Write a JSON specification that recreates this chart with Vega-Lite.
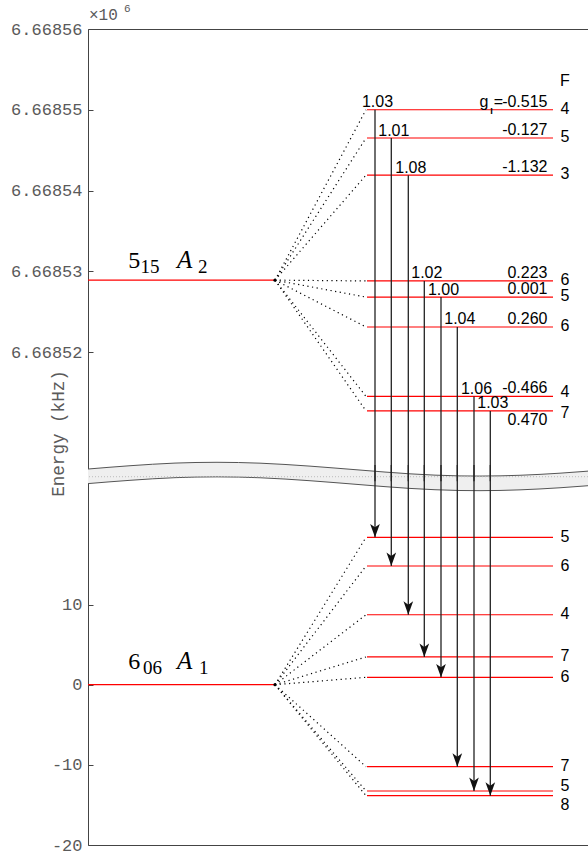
{
  "$schema": "https://vega.github.io/schema/vega-lite/v6.json",
  "width": 530,
  "height": 816,
  "autosize": {"type": "none"},
  "padding": {"left": 88, "top": 29, "right": 0, "bottom": 9},
  "background": "white",
  "config": {
    "locale": {"number": {"decimal": ".", "thousands": ",", "grouping": [3], "currency": ["$", ""], "minus": "-"}},
    "view": {"stroke": "#444444", "strokeWidth": 1},
    "axis": {
      "domain": false,
      "grid": false,
      "tickSize": -5,
      "tickColor": "#444444",
      "labelFont": "Liberation Mono",
      "labelFontSize": 17,
      "labelColor": "#5a5a5a",
      "labelPadding": 11
    }
  },
  "datasets": {
    "upperMain": [{"state": "5_15 A2", "J": "5", "K": "15", "sym": "A", "irrep": "2", "E": 6668528.9}],
    "lowerMain": [{"state": "6_06 A1", "J": "6", "K": "06", "sym": "A", "irrep": "1", "E": 0}],
    "upperLevels": [
      {"F": 4, "E": 6668550.0, "parentE": 6668528.9, "g": -0.515},
      {"F": 5, "E": 6668546.5, "parentE": 6668528.9, "g": -0.127},
      {"F": 3, "E": 6668541.9, "parentE": 6668528.9, "g": -1.132},
      {"F": 6, "E": 6668528.8, "parentE": 6668528.9, "g": 0.223},
      {"F": 5, "E": 6668526.8, "parentE": 6668528.9, "g": 0.001},
      {"F": 6, "E": 6668523.1, "parentE": 6668528.9, "g": 0.260},
      {"F": 4, "E": 6668514.5, "parentE": 6668528.9, "g": -0.466},
      {"F": 7, "E": 6668512.7, "parentE": 6668528.9, "g": 0.470}
    ],
    "lowerLevels": [
      {"F": 5, "E": 18.39, "parentE": 0},
      {"F": 6, "E": 14.81, "parentE": 0},
      {"F": 4, "E": 8.73, "parentE": 0},
      {"F": 7, "E": 3.46, "parentE": 0},
      {"F": 6, "E": 0.92, "parentE": 0},
      {"F": 7, "E": -10.23, "parentE": 0},
      {"F": 5, "E": -13.26, "parentE": 0},
      {"F": 8, "E": -13.85, "parentE": 0}
    ],
    "transitions": [
      {"x": 57.4, "from": 6668550.0, "to": 18.39, "ratio": 1.03},
      {"x": 60.66, "from": 6668546.5, "to": 14.81, "ratio": 1.01},
      {"x": 64.06, "from": 6668541.9, "to": 8.73, "ratio": 1.08},
      {"x": 67.26, "from": 6668528.8, "to": 3.46, "ratio": 1.02},
      {"x": 70.6, "from": 6668526.8, "to": 0.92, "ratio": 1.00},
      {"x": 73.86, "from": 6668523.1, "to": -10.23, "ratio": 1.04},
      {"x": 77.2, "from": 6668514.5, "to": -13.26, "ratio": 1.06},
      {"x": 80.46, "from": 6668512.7, "to": -13.85, "ratio": 1.03}
    ],
    "breakBand": [
      {"x": 0, "top": 26.91, "bottom": 25.09},
      {"x": 8.4, "top": 27.32, "bottom": 25.50},
      {"x": 17.4, "top": 27.65, "bottom": 25.83},
      {"x": 25.8, "top": 27.75, "bottom": 25.93},
      {"x": 34.4, "top": 27.64, "bottom": 25.82},
      {"x": 44.4, "top": 27.27, "bottom": 25.45},
      {"x": 54.4, "top": 26.78, "bottom": 24.96},
      {"x": 64.4, "top": 26.31, "bottom": 24.49},
      {"x": 74.4, "top": 26.05, "bottom": 24.23},
      {"x": 78.4, "top": 26.03, "bottom": 24.21},
      {"x": 86.4, "top": 26.13, "bottom": 24.31},
      {"x": 94.4, "top": 26.39, "bottom": 24.57},
      {"x": 104, "top": 26.85, "bottom": 25.03},
      {"x": 106, "top": 26.95, "bottom": 25.13}
    ]
  },
  "resolve": {"scale": {"y": "independent"}, "axis": {"y": "independent"}},
  "layer": [
    {
      "data": {"name": "breakBand"},
      "mark": {"type": "area", "interpolate": "monotone", "fill": "#efefef"},
      "encoding": {
        "x": {"field": "x", "type": "quantitative", "scale": {"domain": [0, 106], "nice": false, "zero": false}, "axis": null},
        "y": {"field": "top", "type": "quantitative", "scale": {"domain": [-20, 81.81], "nice": false, "zero": false},
          "axis": {"orient": "left", "values": [-20, -10, 0, 10], "format": "d", "title": "Energy (kHz)", "titleFont": "Liberation Mono", "titleFontSize": 17.6, "titleFontWeight": "normal", "titleColor": "#5a5a5a", "titleX": -25, "titleY": 404, "titleAngle": -90, "titleBaseline": "alphabetic", "titleAlign": "center"}},
        "y2": {"field": "bottom"}
      }
    },
    {
      "data": {"name": "breakBand"},
      "mark": {"type": "line", "interpolate": "monotone", "stroke": "#555555", "strokeWidth": 1},
      "encoding": {
        "x": {"field": "x", "type": "quantitative", "scale": {"domain": [0, 106], "nice": false, "zero": false}, "axis": null},
        "y": {"field": "top", "type": "quantitative", "scale": {"domain": [-20, 81.81], "nice": false, "zero": false}, "axis": null}
      }
    },
    {
      "data": {"name": "breakBand"},
      "mark": {"type": "line", "interpolate": "monotone", "stroke": "#555555", "strokeWidth": 1},
      "encoding": {
        "x": {"field": "x", "type": "quantitative", "scale": {"domain": [0, 106], "nice": false, "zero": false}, "axis": null},
        "y": {"field": "bottom", "type": "quantitative", "scale": {"domain": [-20, 81.81], "nice": false, "zero": false}, "axis": null}
      }
    },
    {
      "data": {"name": "lowerMain"},
      "mark": {"type": "rule", "stroke": "#bbbbbb", "strokeWidth": 1, "strokeDash": [1, 2]},
      "encoding": {
        "y": {"datum": 25.95, "type": "quantitative", "scale": {"domain": [-20, 81.81], "nice": false, "zero": false}, "axis": null}
      }
    },
    {
      "data": {"name": "lowerMain"},
      "mark": {"type": "tick", "orient": "horizontal", "color": "#ff0000", "opacity": 1, "size": 187, "thickness": 1.2},
      "encoding": {
        "x": {"datum": 18.7, "type": "quantitative", "scale": {"domain": [0, 106], "nice": false, "zero": false}, "axis": null},
        "y": {"field": "E", "type": "quantitative", "scale": {"domain": [-20, 81.81], "nice": false, "zero": false}, "axis": null}
      }
    },
    {
      "data": {"name": "lowerLevels"},
      "mark": {"type": "tick", "orient": "horizontal", "color": "#ff0000", "opacity": 1, "size": 186, "thickness": 1.2},
      "encoding": {
        "x": {"datum": 74.4, "type": "quantitative", "scale": {"domain": [0, 106], "nice": false, "zero": false}, "axis": null},
        "y": {"field": "E", "type": "quantitative", "scale": {"domain": [-20, 81.81], "nice": false, "zero": false}, "axis": null}
      }
    },
    {
      "data": {"name": "lowerLevels"},
      "mark": {"type": "rule", "stroke": "#000000", "strokeWidth": 1.2, "strokeDash": [1.2, 3.5]},
      "encoding": {
        "x": {"datum": 37.4, "type": "quantitative", "scale": {"domain": [0, 106], "nice": false, "zero": false}, "axis": null},
        "x2": {"datum": 55.6},
        "y": {"field": "parentE", "type": "quantitative", "scale": {"domain": [-20, 81.81], "nice": false, "zero": false}, "axis": null},
        "y2": {"field": "E"}
      }
    },
    {
      "data": {"name": "upperMain"},
      "mark": {"type": "tick", "orient": "horizontal", "color": "#ff0000", "opacity": 1, "size": 187, "thickness": 1.2},
      "encoding": {
        "x": {"datum": 18.7, "type": "quantitative", "scale": {"domain": [0, 106], "nice": false, "zero": false}, "axis": null},
        "y": {"field": "E", "type": "quantitative", "scale": {"domain": [6668458.95, 6668560], "nice": false, "zero": false},
          "axis": {"orient": "left", "values": [6668520, 6668530, 6668540, 6668550, 6668560], "labelExpr": "format(datum.value / 1000000, '.5f')", "title": null}}
      }
    },
    {
      "data": {"name": "upperLevels"},
      "mark": {"type": "tick", "orient": "horizontal", "color": "#ff0000", "opacity": 1, "size": 186, "thickness": 1.2},
      "encoding": {
        "x": {"datum": 74.4, "type": "quantitative", "scale": {"domain": [0, 106], "nice": false, "zero": false}, "axis": null},
        "y": {"field": "E", "type": "quantitative", "scale": {"domain": [6668458.95, 6668560], "nice": false, "zero": false}, "axis": null}
      }
    },
    {
      "data": {"name": "upperLevels"},
      "mark": {"type": "rule", "stroke": "#000000", "strokeWidth": 1.2, "strokeDash": [1.2, 3.5]},
      "encoding": {
        "x": {"datum": 37.4, "type": "quantitative", "scale": {"domain": [0, 106], "nice": false, "zero": false}, "axis": null},
        "x2": {"datum": 55.6},
        "y": {"field": "parentE", "type": "quantitative", "scale": {"domain": [6668458.95, 6668560], "nice": false, "zero": false}, "axis": null},
        "y2": {"field": "E"}
      }
    },
    {
      "data": {"name": "transitions"},
      "mark": {"type": "rule", "stroke": "#222222", "strokeWidth": 1.3},
      "encoding": {
        "x": {"field": "x", "type": "quantitative", "scale": {"domain": [0, 106], "nice": false, "zero": false}, "axis": null},
        "y": {"field": "from", "type": "quantitative", "scale": {"domain": [6668458.95, 6668560], "nice": false, "zero": false}, "axis": null},
        "y2": {"datum": 6668504}
      }
    },
    {
      "data": {"name": "transitions"},
      "mark": {"type": "rule", "stroke": "#222222", "strokeWidth": 1.3},
      "encoding": {
        "x": {"field": "x", "type": "quantitative", "scale": {"domain": [0, 106], "nice": false, "zero": false}, "axis": null},
        "y": {"field": "to", "type": "quantitative", "scale": {"domain": [-20, 81.81], "nice": false, "zero": false}, "axis": null},
        "y2": {"datum": 27.4}
      }
    },
    {
      "data": {"name": "transitions"},
      "mark": {"type": "point", "shape": "M0,0L-0.72,-2L0,-1.5L0.72,-2Z", "filled": true, "size": 180, "color": "#111111", "opacity": 1, "strokeWidth": 0},
      "encoding": {
        "x": {"field": "x", "type": "quantitative", "scale": {"domain": [0, 106], "nice": false, "zero": false}, "axis": null},
        "y": {"field": "to", "type": "quantitative", "scale": {"domain": [-20, 81.81], "nice": false, "zero": false}, "axis": null}
      }
    },
    {
      "data": {"name": "transitions"},
      "mark": {"type": "text", "font": "Liberation Sans", "fontSize": 16, "align": "center", "baseline": "alphabetic", "dx": 2.5, "dy": -2.5},
      "encoding": {
        "x": {"field": "x", "type": "quantitative", "scale": {"domain": [0, 106], "nice": false, "zero": false}, "axis": null},
        "y": {"field": "from", "type": "quantitative", "scale": {"domain": [6668458.95, 6668560], "nice": false, "zero": false}, "axis": null},
        "text": {"field": "ratio", "type": "quantitative", "format": ".2f"}
      }
    },
    {
      "data": {"name": "upperLevels"},
      "transform": [{"filter": "datum.g != 0.47"}],
      "mark": {"type": "text", "font": "Liberation Sans", "fontSize": 16, "align": "right", "baseline": "alphabetic", "dy": -3},
      "encoding": {
        "x": {"datum": 91.9, "type": "quantitative", "scale": {"domain": [0, 106], "nice": false, "zero": false}, "axis": null},
        "y": {"field": "E", "type": "quantitative", "scale": {"domain": [6668458.95, 6668560], "nice": false, "zero": false}, "axis": null},
        "text": {"field": "g", "type": "quantitative", "format": ".3f"}
      }
    },
    {
      "data": {"name": "upperLevels"},
      "transform": [{"filter": "datum.g == 0.47"}],
      "mark": {"type": "text", "font": "Liberation Sans", "fontSize": 16, "align": "right", "baseline": "alphabetic", "dy": 14},
      "encoding": {
        "x": {"datum": 91.9, "type": "quantitative", "scale": {"domain": [0, 106], "nice": false, "zero": false}, "axis": null},
        "y": {"field": "E", "type": "quantitative", "scale": {"domain": [6668458.95, 6668560], "nice": false, "zero": false}, "axis": null},
        "text": {"field": "g", "type": "quantitative", "format": ".3f"}
      }
    },
    {
      "data": {"name": "upperLevels"},
      "transform": [{"filter": "datum.g == -0.515"}],
      "mark": {"type": "text", "font": "Liberation Sans", "fontSize": 16, "align": "right", "baseline": "alphabetic", "dy": -3, "dx": -44.5, "text": "="},
      "encoding": {
        "x": {"datum": 91.9, "type": "quantitative", "scale": {"domain": [0, 106], "nice": false, "zero": false}, "axis": null},
        "y": {"field": "E", "type": "quantitative", "scale": {"domain": [6668458.95, 6668560], "nice": false, "zero": false}, "axis": null}
      }
    },
    {
      "data": {"name": "upperLevels"},
      "transform": [{"filter": "datum.g == -0.515"}],
      "mark": {"type": "text", "font": "Liberation Sans", "fontSize": 16, "align": "right", "baseline": "alphabetic", "dy": -3, "dx": -59, "text": "g"},
      "encoding": {
        "x": {"datum": 91.9, "type": "quantitative", "scale": {"domain": [0, 106], "nice": false, "zero": false}, "axis": null},
        "y": {"field": "E", "type": "quantitative", "scale": {"domain": [6668458.95, 6668560], "nice": false, "zero": false}, "axis": null}
      }
    },
    {
      "data": {"name": "upperLevels"},
      "transform": [{"filter": "datum.g == -0.515"}],
      "mark": {"type": "text", "font": "Liberation Sans", "fontSize": 9, "fontWeight": "bold", "align": "center", "baseline": "alphabetic", "dy": 4, "dx": -56, "text": "I"},
      "encoding": {
        "x": {"datum": 91.9, "type": "quantitative", "scale": {"domain": [0, 106], "nice": false, "zero": false}, "axis": null},
        "y": {"field": "E", "type": "quantitative", "scale": {"domain": [6668458.95, 6668560], "nice": false, "zero": false}, "axis": null}
      }
    },
    {
      "data": {"name": "upperLevels"},
      "transform": [{"filter": "datum.E > 6668516"}],
      "mark": {"type": "text", "font": "Liberation Sans", "fontSize": 16, "align": "center", "baseline": "middle", "dy": -1},
      "encoding": {
        "x": {"datum": 95.4, "type": "quantitative", "scale": {"domain": [0, 106], "nice": false, "zero": false}, "axis": null},
        "y": {"field": "E", "type": "quantitative", "scale": {"domain": [6668458.95, 6668560], "nice": false, "zero": false}, "axis": null},
        "text": {"field": "F", "type": "nominal"}
      }
    },
    {
      "data": {"name": "upperLevels"},
      "transform": [{"filter": "datum.E < 6668516 && datum.E > 6668514"}],
      "mark": {"type": "text", "font": "Liberation Sans", "fontSize": 16, "align": "center", "baseline": "middle", "dy": -4},
      "encoding": {
        "x": {"datum": 95.4, "type": "quantitative", "scale": {"domain": [0, 106], "nice": false, "zero": false}, "axis": null},
        "y": {"field": "E", "type": "quantitative", "scale": {"domain": [6668458.95, 6668560], "nice": false, "zero": false}, "axis": null},
        "text": {"field": "F", "type": "nominal"}
      }
    },
    {
      "data": {"name": "upperLevels"},
      "transform": [{"filter": "datum.E < 6668514"}],
      "mark": {"type": "text", "font": "Liberation Sans", "fontSize": 16, "align": "center", "baseline": "middle", "dy": 2},
      "encoding": {
        "x": {"datum": 95.4, "type": "quantitative", "scale": {"domain": [0, 106], "nice": false, "zero": false}, "axis": null},
        "y": {"field": "E", "type": "quantitative", "scale": {"domain": [6668458.95, 6668560], "nice": false, "zero": false}, "axis": null},
        "text": {"field": "F", "type": "nominal"}
      }
    },
    {
      "data": {"name": "upperMain"},
      "mark": {"type": "text", "font": "Liberation Sans", "fontSize": 16, "align": "center", "baseline": "middle", "text": "F"},
      "encoding": {
        "x": {"datum": 95.4, "type": "quantitative", "scale": {"domain": [0, 106], "nice": false, "zero": false}, "axis": null},
        "y": {"datum": 6668553.56, "type": "quantitative", "scale": {"domain": [6668458.95, 6668560], "nice": false, "zero": false}, "axis": null}
      }
    },
    {
      "data": {"name": "lowerLevels"},
      "transform": [{"filter": "datum.E > -13"}],
      "mark": {"type": "text", "font": "Liberation Sans", "fontSize": 16, "align": "center", "baseline": "middle", "dy": -0.5},
      "encoding": {
        "x": {"datum": 95.4, "type": "quantitative", "scale": {"domain": [0, 106], "nice": false, "zero": false}, "axis": null},
        "y": {"field": "E", "type": "quantitative", "scale": {"domain": [-20, 81.81], "nice": false, "zero": false}, "axis": null},
        "text": {"field": "F", "type": "nominal"}
      }
    },
    {
      "data": {"name": "lowerLevels"},
      "transform": [{"filter": "datum.E < -13 && datum.E > -13.5"}],
      "mark": {"type": "text", "font": "Liberation Sans", "fontSize": 16, "align": "center", "baseline": "middle", "dy": -5},
      "encoding": {
        "x": {"datum": 95.4, "type": "quantitative", "scale": {"domain": [0, 106], "nice": false, "zero": false}, "axis": null},
        "y": {"field": "E", "type": "quantitative", "scale": {"domain": [-20, 81.81], "nice": false, "zero": false}, "axis": null},
        "text": {"field": "F", "type": "nominal"}
      }
    },
    {
      "data": {"name": "lowerLevels"},
      "transform": [{"filter": "datum.E < -13.5"}],
      "mark": {"type": "text", "font": "Liberation Sans", "fontSize": 16, "align": "center", "baseline": "middle", "dy": 9.5},
      "encoding": {
        "x": {"datum": 95.4, "type": "quantitative", "scale": {"domain": [0, 106], "nice": false, "zero": false}, "axis": null},
        "y": {"field": "E", "type": "quantitative", "scale": {"domain": [-20, 81.81], "nice": false, "zero": false}, "axis": null},
        "text": {"field": "F", "type": "nominal"}
      }
    },
    {
      "data": {"name": "upperMain"},
      "mark": {"type": "text", "align": "left", "baseline": "alphabetic", "font": "Liberation Mono", "fontSize": 16, "color": "#5a5a5a", "dx": 1, "dy": -9, "text": "×10"},
      "encoding": {
        "x": {"datum": 0, "type": "quantitative", "scale": {"domain": [0, 106], "nice": false, "zero": false}, "axis": null},
        "y": {"datum": 6668560, "type": "quantitative", "scale": {"domain": [6668458.95, 6668560], "nice": false, "zero": false}, "axis": null}
      }
    },
    {
      "data": {"name": "upperMain"},
      "mark": {"type": "text", "align": "left", "baseline": "alphabetic", "font": "Liberation Mono", "fontSize": 11, "color": "#5a5a5a", "dx": 36, "dy": -17, "text": "6"},
      "encoding": {
        "x": {"datum": 0, "type": "quantitative", "scale": {"domain": [0, 106], "nice": false, "zero": false}, "axis": null},
        "y": {"datum": 6668560, "type": "quantitative", "scale": {"domain": [6668458.95, 6668560], "nice": false, "zero": false}, "axis": null}
      }
    },
    {
      "data": {"name": "upperMain"},
      "mark": {"type": "point", "filled": true, "size": 10, "color": "#000000", "opacity": 1},
      "encoding": {
        "x": {"datum": 37.4, "type": "quantitative", "scale": {"domain": [0, 106], "nice": false, "zero": false}, "axis": null},
        "y": {"field": "E", "type": "quantitative", "scale": {"domain": [6668458.95, 6668560], "nice": false, "zero": false}, "axis": null}
      }
    },
    {
      "data": {"name": "lowerMain"},
      "mark": {"type": "point", "filled": true, "size": 10, "color": "#000000", "opacity": 1},
      "encoding": {
        "x": {"datum": 37.4, "type": "quantitative", "scale": {"domain": [0, 106], "nice": false, "zero": false}, "axis": null},
        "y": {"field": "E", "type": "quantitative", "scale": {"domain": [-20, 81.81], "nice": false, "zero": false}, "axis": null}
      }
    },
    {
      "data": {"name": "upperMain"},
      "mark": {"type": "text", "align": "left", "baseline": "alphabetic", "font": "Liberation Serif", "fontSize": 24, "dx": 40.3, "dy": -11.7},
      "encoding": {
        "x": {"datum": 0, "type": "quantitative", "scale": {"domain": [0, 106], "nice": false, "zero": false}, "axis": null},
        "y": {"field": "E", "type": "quantitative", "scale": {"domain": [6668458.95, 6668560], "nice": false, "zero": false}, "axis": null},
        "text": {"field": "J", "type": "nominal"}
      }
    },
    {
      "data": {"name": "upperMain"},
      "mark": {"type": "text", "align": "left", "baseline": "alphabetic", "font": "Liberation Serif", "fontSize": 19, "dx": 52.5, "dy": -6.7},
      "encoding": {
        "x": {"datum": 0, "type": "quantitative", "scale": {"domain": [0, 106], "nice": false, "zero": false}, "axis": null},
        "y": {"field": "E", "type": "quantitative", "scale": {"domain": [6668458.95, 6668560], "nice": false, "zero": false}, "axis": null},
        "text": {"field": "K", "type": "nominal"}
      }
    },
    {
      "data": {"name": "upperMain"},
      "mark": {"type": "text", "align": "left", "baseline": "alphabetic", "font": "Liberation Serif", "fontStyle": "italic", "fontSize": 25, "dx": 89, "dy": -11.7},
      "encoding": {
        "x": {"datum": 0, "type": "quantitative", "scale": {"domain": [0, 106], "nice": false, "zero": false}, "axis": null},
        "y": {"field": "E", "type": "quantitative", "scale": {"domain": [6668458.95, 6668560], "nice": false, "zero": false}, "axis": null},
        "text": {"field": "sym", "type": "nominal"}
      }
    },
    {
      "data": {"name": "upperMain"},
      "mark": {"type": "text", "align": "left", "baseline": "alphabetic", "font": "Liberation Serif", "fontSize": 19, "dx": 110, "dy": -6.7},
      "encoding": {
        "x": {"datum": 0, "type": "quantitative", "scale": {"domain": [0, 106], "nice": false, "zero": false}, "axis": null},
        "y": {"field": "E", "type": "quantitative", "scale": {"domain": [6668458.95, 6668560], "nice": false, "zero": false}, "axis": null},
        "text": {"field": "irrep", "type": "nominal"}
      }
    },
    {
      "data": {"name": "lowerMain"},
      "mark": {"type": "text", "align": "left", "baseline": "alphabetic", "font": "Liberation Serif", "fontSize": 24, "dx": 40.3, "dy": -16},
      "encoding": {
        "x": {"datum": 0, "type": "quantitative", "scale": {"domain": [0, 106], "nice": false, "zero": false}, "axis": null},
        "y": {"field": "E", "type": "quantitative", "scale": {"domain": [-20, 81.81], "nice": false, "zero": false}, "axis": null},
        "text": {"field": "J", "type": "nominal"}
      }
    },
    {
      "data": {"name": "lowerMain"},
      "mark": {"type": "text", "align": "left", "baseline": "alphabetic", "font": "Liberation Serif", "fontSize": 19, "dx": 55, "dy": -11.2},
      "encoding": {
        "x": {"datum": 0, "type": "quantitative", "scale": {"domain": [0, 106], "nice": false, "zero": false}, "axis": null},
        "y": {"field": "E", "type": "quantitative", "scale": {"domain": [-20, 81.81], "nice": false, "zero": false}, "axis": null},
        "text": {"field": "K", "type": "nominal"}
      }
    },
    {
      "data": {"name": "lowerMain"},
      "mark": {"type": "text", "align": "left", "baseline": "alphabetic", "font": "Liberation Serif", "fontStyle": "italic", "fontSize": 25, "dx": 89, "dy": -16},
      "encoding": {
        "x": {"datum": 0, "type": "quantitative", "scale": {"domain": [0, 106], "nice": false, "zero": false}, "axis": null},
        "y": {"field": "E", "type": "quantitative", "scale": {"domain": [-20, 81.81], "nice": false, "zero": false}, "axis": null},
        "text": {"field": "sym", "type": "nominal"}
      }
    },
    {
      "data": {"name": "lowerMain"},
      "mark": {"type": "text", "align": "left", "baseline": "alphabetic", "font": "Liberation Serif", "fontSize": 19, "dx": 111, "dy": -11.2},
      "encoding": {
        "x": {"datum": 0, "type": "quantitative", "scale": {"domain": [0, 106], "nice": false, "zero": false}, "axis": null},
        "y": {"field": "E", "type": "quantitative", "scale": {"domain": [-20, 81.81], "nice": false, "zero": false}, "axis": null},
        "text": {"field": "irrep", "type": "nominal"}
      }
    }
  ]
}
